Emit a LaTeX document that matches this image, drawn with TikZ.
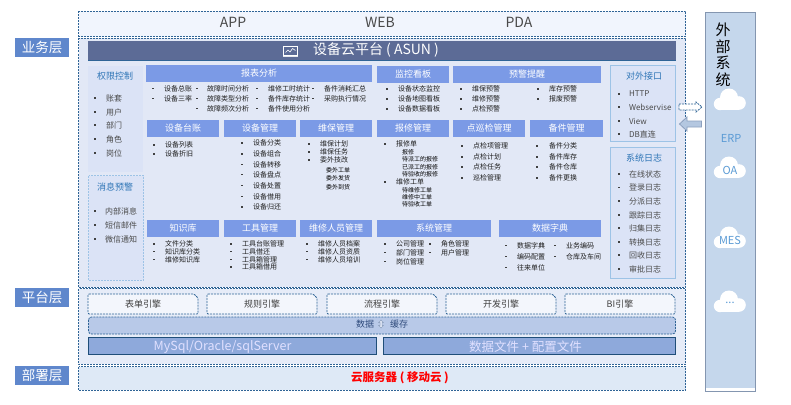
\documentclass[tikz,border=0pt]{standalone}
\usepackage{fontspec}
\setmainfont{Noto Sans CJK SC}
\definecolor{dashblue}{HTML}{2F6496}
\definecolor{hdrblue}{HTML}{7B9AE6}
\definecolor{lblblue}{HTML}{5F87CC}
\definecolor{topbg}{HTML}{F1F5FD}
\definecolor{mainbg}{HTML}{E2E8F6}
\definecolor{platbg}{HTML}{E6ECF8}
\definecolor{deploybg}{HTML}{DEE9F6}
\definecolor{panelbg}{HTML}{DBE3F6}
\definecolor{panelline}{HTML}{9DC3E6}
\definecolor{titlebar}{HTML}{5C6B96}
\definecolor{itemgrey}{HTML}{1E1E1E}
\definecolor{sidegrey}{HTML}{4A4A4A}
\definecolor{titleblue}{HTML}{2E75B6}
\definecolor{sideblue}{HTML}{C5D7EC}
\definecolor{sideline}{HTML}{8496B0}
\definecolor{cloudtxt}{HTML}{5B9BD5}
\definecolor{enginebg}{HTML}{F3F6FC}
\definecolor{databg}{HTML}{B8C9E8}
\definecolor{dbbg}{HTML}{8EA9DB}
\definecolor{dbline}{HTML}{1F4E79}
\definecolor{datatxt}{HTML}{2F4B7C}
\definecolor{arrowbg}{HTML}{B4C7E0}
\definecolor{arrowline}{HTML}{8CA0BE}
\newcommand\fs[1]{\fontsize{#1}{#1}\selectfont}
\newcounter{tn}
\tikzset{
 dashbox/.style={draw=dashblue,line width=.8pt,dash pattern=on 2pt off 1pt},
 txt/.style={inner sep=0pt,outer sep=0pt},
 itemtxt/.style={txt,anchor=west,text=itemgrey,font=\fs{7}},
 subtxt/.style={txt,anchor=west,text=black,font=\fs{6}},
 sidetxt/.style={txt,anchor=west,text=sidegrey,font=\fs{8}},
 hdrtxt/.style={txt,text=white,font=\fs{9}},
 paneltitle/.style={txt,text=titleblue,font=\fs{9}},
 lbl/.style={fill=lblblue,text=white,inner sep=0pt,minimum width=54pt,minimum height=19pt,font=\fs{13.5}},
 cloudlbl/.style={txt,text=cloudtxt,font=\fs{11}},
}
\newcommand\li[5][itemtxt]{\stepcounter{tn}\fill[black!75] (#2-.7,#4-.7) rectangle (#2+.7,#4+.7);\node[#1] (item\thetn) at (#3,#4) {#5};}
\newcommand\subli[3]{\stepcounter{tn}\node[subtxt] (item\thetn) at (#1,#2) {#3};}
\newcommand\hdr[6]{\fill[hdrblue] (#2,#3) rectangle (#4,#5);\node[hdrtxt] (#1) at ({(#2+#4)/2},{(#3+#5)/2}) {#6};}
\newcommand\engine[4]{\path[dashbox,fill=enginebg,rounded corners=1pt] (#2,294) -- (#3-4,294) -- (#3,298) -- (#3,314) -- (#2,314) -- cycle;\node[txt,text=itemgrey!85!white,font=\fs{9}] (#1) at ({(#2+#3)/2},304) {#4};}
\newcommand\cloudat[2]{\fill[white] (#1-10,#2+4) circle (6.2);\fill[white] (#1-1,#2-2.5) circle (9);\fill[white] (#1+9,#2+3) circle (6.8);\fill[white] (#1-10,#2+2) rectangle (#1+9,#2+10.2);}
\begin{document}
\begin{tikzpicture}[x=1pt,y=-1pt]
\useasboundingbox (0,0) rectangle (791,404);
\fill[white] (0,0) rectangle (791,404);
% layer boxes
\path[dashbox,fill=topbg] (78.5,11.5) rectangle (685.5,36.5);
\path[dashbox,fill=mainbg] (78.5,38.5) rectangle (685.5,287);
\path[dashbox,fill=platbg] (78.5,288.5) rectangle (685.5,364);
\path[dashbox,fill=deploybg] (78.5,366.5) rectangle (685.5,390);
\node[txt,text=sidegrey,font=\fs{14}] (app) at (233,22) {APP};
\node[txt,text=sidegrey,font=\fs{14}] (web) at (380,22) {WEB};
\node[txt,text=sidegrey,font=\fs{14}] (pda) at (519,22) {PDA};
% layer labels
\node[lbl] (l1) at (42,47.5) {业务层};
\node[lbl] (l2) at (42,297.5) {平台层};
\node[lbl] (l3) at (42,375.5) {部署层};
% title
\fill[titlebar] (88,41) rectangle (676,60);
\draw[dashblue,line width=.6pt] (88,60) -- (676,60);
\node[txt,text=white,font=\fs{14},anchor=west] (title) at (313,50) {设备云平台 ( ASUN )};
\draw[white,line width=.6pt] (283.5,46) rectangle (297.5,55);
\draw[white,line width=.6pt] (285.5,52.5) -- (288,50) -- (290,52) -- (292.5,48.5) -- (295.5,50.5);
\fill[white!85!titlebar] (283,56) rectangle (298,57.2);
% left panels
\fill[panelbg] (88,66) rectangle (143,172);
\node[paneltitle] (qx) at (115,76) {权限控制};
\li[sidetxt]{95}{106}{98}{账套}
\li[sidetxt]{95}{106}{112}{用户}
\li[sidetxt]{95}{106}{125}{部门}
\li[sidetxt]{95}{106}{139}{角色}
\li[sidetxt]{95}{106}{153}{岗位}
\path[draw=panelline,fill=panelbg,line width=.7pt,dash pattern=on 2pt off 1pt] (88.5,175.5) rectangle (143.5,280);
\node[paneltitle] (xx) at (115,187) {消息预警};
\li[sidetxt]{95}{105}{211}{内部消息}
\li[sidetxt]{95}{105}{225}{短信邮件}
\li[sidetxt]{95}{105}{239}{微信通知}
% row 1
\hdr{h1}{146}{65}{372}{82}{报表分析}
\hdr{h2}{377}{66}{449}{83}{监控看板}
\hdr{h3}{453}{66}{601}{83}{预警提醒}
\li{153}{164}{88.7}{设备总账}
\li{153}{164}{98.7}{设备三率}
\li{197}{207}{88.7}{故障时间分析}
\li{197}{207}{98.7}{故障类型分析}
\li{197}{207}{108.7}{故障频次分析}
\li{257}{268}{88.7}{维修工时统计}
\li{257}{268}{98.7}{备件库存统计}
\li{257}{268}{108.7}{备件使用分析}
\li{313}{324}{88.7}{备件消耗汇总}
\li{313}{324}{98.7}{采购执行情况}
\li{387}{398}{89}{设备状态监控}
\li{387}{398}{99}{设备地图看板}
\li{387}{398}{109}{设备数据看板}
\li{461}{472}{89}{维保预警}
\li{461}{472}{99}{维修预警}
\li{461}{472}{109}{点检预警}
\li{538}{549}{89}{库存预警}
\li{538}{549}{99}{报废预警}
% row 2
\hdr{h4}{147}{120}{219}{137}{设备台账}
\hdr{h5}{224}{120}{296}{137}{设备管理}
\hdr{h6}{300}{120}{372}{137}{维保管理}
\hdr{h7}{377}{120}{449}{137}{报修管理}
\hdr{h8}{453}{120}{525}{137}{点巡检管理}
\hdr{h9}{530}{120}{603}{137}{备件管理}
\li{154}{165}{145}{设备列表}
\li{154}{165}{154}{设备折旧}
\li{242}{253}{143}{设备分类}
\li{242}{253}{154}{设备组合}
\li{242}{253}{164.5}{设备转移}
\li{242}{253}{174.5}{设备盘点}
\li{242}{253}{185.5}{设备处置}
\li{242}{253}{196.5}{设备借用}
\li{242}{253}{207}{设备归还}
\li{309}{320}{144}{维保计划}
\li{309}{320}{152}{维保任务}
\li{309}{320}{160}{委外技改}
\subli{326}{170}{委外工单}
\subli{326}{178.5}{委外发货}
\subli{326}{187}{委外到货}
\li{385}{396}{144}{报修单}
\subli{402}{152}{报修}
\subli{402}{159.5}{待派工的报修}
\subli{402}{167}{已派工的报修}
\subli{402}{174}{待验收的报修}
\li{385}{396}{182}{维修工单}
\subli{402}{190}{待维修工单}
\subli{402}{197}{维修中工单}
\subli{402}{204}{待验收工单}
\li{462}{473}{146}{点检项管理}
\li{462}{473}{157}{点检计划}
\li{462}{473}{167}{点检任务}
\li{462}{473}{178}{巡检管理}
\li{537}{549}{146}{备件分类}
\li{537}{549}{157}{备件库存}
\li{537}{549}{167}{备件仓库}
\li{537}{549}{178}{备件更换}
% row 3
\hdr{h10}{147}{220}{219}{237}{知识库}
\hdr{h11}{224}{220}{296}{237}{工具管理}
\hdr{h12}{300}{220}{372}{237}{维修人员管理}
\hdr{h13}{377}{220}{491}{237}{系统管理}
\hdr{h14}{499}{220}{601}{237}{数据字典}
\li{154}{165}{244}{文件分类}
\li{154}{165}{251.5}{知识库分类}
\li{154}{165}{259.5}{维修知识库}
\li{231}{242}{244}{工具台账管理}
\li{231}{242}{251.5}{工具借还}
\li{231}{242}{259.5}{工具箱管理}
\li{231}{242}{267}{工具箱借用}
\li{307}{318}{244}{维修人员档案}
\li{307}{318}{251.5}{维修人员资质}
\li{307}{318}{259.5}{维修人员培训}
\li{385}{396}{244}{公司管理}
\li{385}{396}{252.5}{部门管理}
\li{385}{396}{261.5}{岗位管理}
\li{430}{441}{244}{角色管理}
\li{430}{441}{252.5}{用户管理}
\li{506}{517}{245.5}{数据字典}
\li{506}{517}{256.5}{编码配置}
\li{506}{517}{267.5}{往来单位}
\li{555}{566}{245.5}{业务编码}
\li{555}{566}{256.5}{仓库及车间}
% right panels
\path[draw=panelline,fill=panelbg,line width=.8pt] (610.5,65.5) rectangle (675.5,141);
\node[paneltitle] (dw) at (644,76) {对外接口};
\li[sidetxt]{619}{629}{94}{HTTP}
\li[sidetxt]{619}{629}{107}{Webservise}
\li[sidetxt]{619}{629}{121}{View}
\li[sidetxt]{619}{629}{134}{DB直连}
\path[draw=panelline,fill=panelbg,line width=.8pt] (610.5,147.5) rectangle (675.5,278);
\node[paneltitle] (xt) at (644,158) {系统日志};
\li[sidetxt]{619}{629}{174}{在线状态}
\li[sidetxt]{619}{629}{187.5}{登录日志}
\li[sidetxt]{619}{629}{201}{分派日志}
\li[sidetxt]{619}{629}{215}{跟踪日志}
\li[sidetxt]{619}{629}{228}{归集日志}
\li[sidetxt]{619}{629}{242}{转换日志}
\li[sidetxt]{619}{629}{255}{回收日志}
\li[sidetxt]{619}{629}{269}{审批日志}
% platform
\engine{e1}{88}{198}{表单引擎}
\engine{e2}{207}{317}{规则引擎}
\engine{e3}{327}{437}{流程引擎}
\engine{e4}{446}{556}{开发引擎}
\engine{e5}{565}{675}{BI引擎}
\path[dashbox,fill=databg,rounded corners=3pt] (88.5,317) rectangle (675.5,334);
\node[txt,text=datatxt,font=\fs{9}] (d1) at (365,324) {数据};
\node[txt,text=datatxt,font=\fs{9}] (d2) at (399,324) {缓存};
\draw[arrowline,line width=.5pt,fill=mainbg] (381,320) -- (383.3,322.6) -- (382,322.6) -- (382,325.4) -- (383.3,325.4) -- (381,328) -- (378.7,325.4) -- (380,325.4) -- (380,322.6) -- (378.7,322.6) -- cycle;
\path[draw=dbline,fill=dbbg,line width=.8pt] (88.5,337.5) rectangle (376.5,354.5);
\node[txt,text=white!88!blue,font=\fs{12.5}] (db) at (222.5,347) {MySql/Oracle/sqlServer};
\path[draw=dbline,fill=dbbg,line width=.8pt] (383.5,337.5) rectangle (675.5,354.5);
\node[txt,text=white!88!blue,font=\fs{12.5}] (files) at (525.5,347) {数据文件 + 配置文件};
\node[txt,text=red,font=\bfseries\fs{11.5}] (cloudsrv) at (400,378) {云服务器 ( 移动云 )};
% external
\draw[draw=sideline,fill=white,line width=.8pt] (705.5,12.5) rectangle (755.5,391);
\fill[sideblue] (706,13) rectangle (755,388);
\node[txt,text=black,font=\fs{15}] (w1) at (723,30) {外};
\node[txt,text=black,font=\fs{15}] (w2) at (723,46.5) {部};
\node[txt,text=black,font=\fs{15}] (w3) at (723,63) {系};
\node[txt,text=black,font=\fs{15}] (w4) at (723,79.5) {统};
\cloudat{730}{100}
\node[cloudlbl] (erp) at (731,138) {ERP};
\cloudat{730}{168}
\node[cloudlbl] (oa) at (730,170) {OA};
\cloudat{730}{238}
\node[cloudlbl] (mes) at (730,240) {MES};
\cloudat{730}{302}
\node[cloudlbl] (dots) at (730,303) {...};
% arrows
\path[dashbox,fill=white] (679,104) -- (696,104) -- (696,102) -- (702,107) -- (696,112) -- (696,110) -- (679,110) -- cycle;
\path[draw=arrowline,fill=arrowbg,line width=.8pt] (701.5,121) -- (687,121) -- (687,117) -- (679.5,124) -- (687,131) -- (687,127) -- (701.5,127) -- cycle;
\end{tikzpicture}
\end{document}
